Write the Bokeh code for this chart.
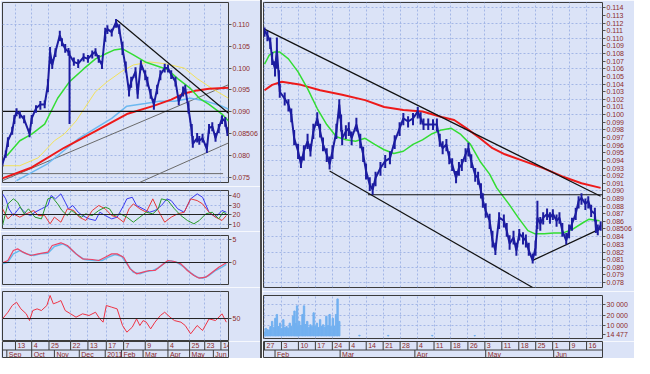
from bokeh.plotting import figure
from bokeh.layouts import row, column
from bokeh.models import Range1d, FixedTicker, PrintfTickFormatter, Span, Spacer
from bokeh.core.properties import value
from bokeh.embed import file_html
from bokeh.resources import INLINE

BG = "#dbe3f7"
GRID = "#a3b6e6"
LBL = "#8c2a2a"
FONT = "Liberation Sans"

# ---------------- LEFT WINDOW (daily, trading-day index) ----------------
left_idx = [0, 3, 5, 9, 11, 13, 16, 20, 25, 27, 31, 35, 39, 42, 44, 46, 49, 53, 55, 58, 61, 62,
            66, 70, 75, 79, 83, 86, 89, 92, 95, 97, 101, 105, 108, 111, 114, 117, 119, 123, 125,
            128, 132, 134, 137, 140, 143, 146, 150, 153, 156, 160, 163, 167, 169, 172, 175, 176,
            180, 182, 185, 189, 191, 194, 197, 200, 203, 206, 208]
left_close = [0.0782, 0.0804, 0.0834, 0.0856, 0.0885, 0.0900, 0.0895, 0.0883, 0.0850, 0.0885,
              0.0908, 0.0917, 0.0917, 0.0962, 0.1037, 0.1007, 0.1037, 0.1075, 0.1059, 0.1044,
              0.1037, 0.1030, 0.1014, 0.1010, 0.1025, 0.1021, 0.1032, 0.1037, 0.1021, 0.1007,
              0.1082, 0.1089, 0.1082, 0.1105, 0.1089, 0.1044, 0.1000, 0.0946, 0.0969, 0.0992,
              0.0940, 0.1010, 0.0985, 0.0969, 0.0940, 0.0917, 0.0953, 0.0985, 0.1000, 0.1000,
              0.0985, 0.0969, 0.0924, 0.0946, 0.0953, 0.0908, 0.0856, 0.0827, 0.0840, 0.0834,
              0.0840, 0.0815, 0.0863, 0.0867, 0.0840, 0.0863, 0.0885, 0.0878, 0.0851]
left_high = [0.0790, 0.0812, 0.0842, 0.0866, 0.0893, 0.0908, 0.0902, 0.0892, 0.0862, 0.0893,
             0.0915, 0.0925, 0.0926, 0.0975, 0.1048, 0.1020, 0.1045, 0.1085, 0.1068, 0.1055,
             0.1046, 0.1040, 0.1024, 0.1020, 0.1034, 0.1030, 0.1040, 0.1045, 0.1030, 0.1016,
             0.1092, 0.1098, 0.1090, 0.1112, 0.1100, 0.1060, 0.1015, 0.0962, 0.0980, 0.1002,
             0.0955, 0.1018, 0.0995, 0.0980, 0.0952, 0.0930, 0.0962, 0.0995, 0.1010, 0.1008,
             0.0995, 0.0980, 0.0938, 0.0958, 0.0962, 0.0922, 0.0872, 0.0845, 0.0852, 0.0845,
             0.0850, 0.0828, 0.0872, 0.0876, 0.0852, 0.0872, 0.0892, 0.0888, 0.0865]
left_low = [0.0775, 0.0795, 0.0820, 0.0848, 0.0872, 0.0890, 0.0885, 0.0874, 0.0842, 0.0872,
            0.0898, 0.0905, 0.0908, 0.0945, 0.1010, 0.0998, 0.1025, 0.1062, 0.1050, 0.1035,
            0.1028, 0.0872, 0.1005, 0.1000, 0.1015, 0.1012, 0.1022, 0.1027, 0.1012, 0.0998,
            0.1060, 0.1078, 0.1072, 0.1092, 0.1078, 0.1030, 0.0990, 0.0935, 0.0955, 0.0978,
            0.0930, 0.0995, 0.0972, 0.0958, 0.0930, 0.0905, 0.0940, 0.0972, 0.0990, 0.0990,
            0.0975, 0.0958, 0.0915, 0.0935, 0.0942, 0.0896, 0.0845, 0.0818, 0.0830, 0.0825,
            0.0830, 0.0806, 0.0850, 0.0856, 0.0832, 0.0852, 0.0872, 0.0866, 0.0845]
left_last_price = 0.08506
left_last_text = "0.08506"

left_green_x = [4, 16, 27, 39, 51, 62, 75, 86, 95, 103, 111, 121, 132, 145, 153, 162, 174, 182, 191, 203, 209]
left_green_y = [0.0800, 0.0834, 0.0849, 0.0872, 0.0931, 0.0969, 0.0998, 0.1021, 0.1032, 0.1041, 0.1044,
                0.1030, 0.1014, 0.1003, 0.0996, 0.0976, 0.0953, 0.0931, 0.0917, 0.0895, 0.0879]
left_yellow_x = [0, 16, 33, 48, 57, 68, 86, 97, 110, 121, 136, 150, 168, 180, 194, 209]
left_yellow_y = [0.0777, 0.0777, 0.0795, 0.0834, 0.0849, 0.0879, 0.0946, 0.0969, 0.0992, 0.1007,
                 0.1014, 0.1010, 0.1000, 0.0976, 0.0953, 0.0931]
left_blue_x = [13, 42, 71, 101, 115, 132, 145, 159, 174, 189, 203, 209]
left_blue_y = [0.0743, 0.0782, 0.0840, 0.0885, 0.0913, 0.0919, 0.0924, 0.0924, 0.0931, 0.0924, 0.0913, 0.0906]
left_red_x = [0, 27, 57, 86, 115, 139, 156, 168, 180, 191, 209]
left_red_y = [0.0748, 0.0773, 0.0818, 0.0856, 0.0895, 0.0913, 0.0928, 0.0942, 0.0949, 0.0953, 0.0955]

# straight drawing lines: [x0, x1], [y0, y1]
left_black_xs = [[106, 209], [0, 209]]
left_black_ys = [[0.1109, 0.0897], [0.0901, 0.0901]]
left_gray_xs = [[0, 209], [127, 209], [0, 204]]
left_gray_ys = [[0.0743, 0.0962], [0.0739, 0.0829], [0.0759, 0.0759]]

left_price_ticks = [0.075, 0.080, 0.090, 0.095, 0.100, 0.105, 0.110]
left_price_grid = [0.075, 0.080, 0.085, 0.090, 0.095, 0.100, 0.105, 0.110]

# ADX / DMI panel
adx_x = [0, 3, 6, 10, 16, 22, 26, 30, 36, 42, 45, 49, 54, 58, 61, 65, 70, 74, 80, 86, 90, 95, 101,
         106, 112, 115, 120, 124, 130, 136, 141, 147, 152, 156, 162, 168, 174, 180, 185, 191, 197, 203, 207]
adx_blue = [41.8, 36.5, 26.0, 18.9, 27.7, 20.7, 18.9, 22.4, 26.0, 29.5, 40.0, 36.5, 41.8, 33.0, 26.0,
            29.5, 22.4, 18.9, 15.4, 13.7, 22.4, 18.9, 15.4, 17.2, 29.5, 36.5, 38.2, 29.5, 26.0, 22.4,
            24.2, 29.5, 36.5, 34.7, 26.0, 22.4, 36.5, 41.8, 38.2, 22.4, 17.2, 24.2, 22.4]
adx_red_x = [0, 5, 10, 16, 22, 29, 33, 39, 44, 48, 54, 60, 66, 71, 77, 83, 89, 95, 101, 106, 112, 117,
             121, 127, 133, 139, 144, 150, 156, 162, 168, 174, 180, 185, 191, 197, 203, 207]
adx_red = [26.0, 15.4, 20.7, 17.2, 20.7, 24.2, 18.9, 18.9, 10.2, 17.2, 11.9, 26.0, 24.2, 17.2, 13.7,
           24.2, 29.5, 26.0, 18.9, 17.2, 11.9, 26.0, 31.2, 26.0, 22.4, 36.5, 24.2, 11.9, 17.2, 20.7,
           22.4, 36.5, 34.7, 31.2, 22.4, 17.2, 13.7, 18.9]
adx_green_x = [0, 5, 10, 14, 20, 24, 30, 36, 42, 46, 51, 55, 60, 64, 68, 73, 77, 83, 89, 95, 99, 103,
               109, 115, 121, 127, 133, 139, 144, 147, 153, 159, 165, 171, 177, 182, 188, 194, 200, 204, 207]
adx_green = [8.4, 31.2, 36.5, 33.0, 20.7, 26.0, 17.2, 15.4, 36.5, 38.2, 31.2, 24.2, 18.9, 24.2, 20.7,
             17.2, 20.7, 18.9, 24.2, 27.7, 26.0, 18.9, 20.7, 17.2, 11.9, 17.2, 22.4, 20.7, 26.0, 36.5,
             34.7, 26.0, 18.9, 13.7, 10.2, 13.7, 20.7, 22.4, 15.4, 22.4, 20.7]
adx_ticks = [10, 20, 30, 40]
adx_level = 20

# MACD panel
macd_red_x = [0, 5, 10, 14, 19, 26, 33, 42, 46, 54, 60, 68, 74, 83, 89, 95, 101, 106, 112, 118, 124,
              130, 136, 141, 147, 153, 159, 165, 171, 177, 182, 188, 194, 200, 207]
macd_red = [-0.07, 0.43, 2.6, 2.97, 2.25, 1.52, 1.88, 2.25, 3.70, 4.28, 3.70, 1.88, 0.80, 0.65, 0.43,
            1.16, 1.88, 1.88, 1.16, -1.38, -2.46, -2.10, -1.74, -1.74, -0.65, 0.43, 0.22, -0.29,
            -1.74, -2.83, -3.41, -3.19, -2.10, -1.01, -0.07]
macd_blue_x = [0, 5, 10, 16, 22, 29, 35, 42, 48, 56, 61, 70, 76, 85, 92, 98, 104, 110, 115, 121, 127,
               133, 139, 144, 150, 156, 162, 168, 174, 180, 185, 191, 197, 203, 207]
macd_blue = [-0.29, 0.07, 1.88, 2.6, 1.88, 1.52, 1.88, 2.03, 3.48, 4.06, 3.33, 1.52, 0.65, 0.43, 0.43,
             1.16, 1.74, 1.38, -0.29, -2.10, -2.46, -1.96, -1.74, -1.16, -0.07, 0.36, -0.07, -1.01,
             -2.25, -3.19, -3.41, -2.83, -1.74, -1.01, -0.43]
macd_ticks = [-5, 0, 5]
macd_level = 0

# RSI panel
rsi_x = [0, 5, 9, 13, 17, 22, 25, 28, 32, 36, 41, 44, 47, 51, 54, 58, 63, 68, 74, 80, 86, 90, 93, 96,
         101, 106, 111, 115, 120, 124, 127, 130, 133, 137, 141, 146, 150, 155, 159, 165, 169, 174,
         180, 185, 191, 197, 203, 207]
rsi_red = [49.5, 59.0, 68.6, 73.3, 63.8, 56.7, 47.1, 61.4, 63.8, 61.4, 68.6, 82.9, 71.0, 73.3, 75.7,
           61.4, 56.7, 51.9, 56.7, 54.3, 59.0, 49.5, 44.8, 68.6, 66.2, 63.8, 40.0, 30.5, 37.6, 49.5,
           40.0, 47.1, 44.8, 35.2, 44.8, 54.3, 59.0, 51.9, 47.1, 44.8, 40.0, 28.1, 40.0, 32.9, 49.5,
           47.1, 56.7, 44.8]
rsi_ticks = [50]
rsi_level = 50

# left date axis
left_day_ticks = [12, 27, 43, 63, 79, 96, 112, 132, 153, 173, 187, 202]
left_day_labels = ["13", "4", "25", "22", "13", "17", "7", "9", "4", "25", "23", "14"]
left_month_ticks = [4, 27, 48, 71, 95, 110, 130, 153, 173, 195]
left_month_labels = ["Sep", "Oct", "Nov", "Dec", "2011", "Feb", "Mar", "Apr", "May", "Jun"]

# ---------------- RIGHT WINDOW (hourly, weeks since Jan 27) ----------------
right_t = [0.00, 0.17, 0.34, 0.45, 0.62, 0.73, 0.85, 0.90, 1.19, 1.41, 1.58, 1.75, 1.98, 2.15, 2.32,
           2.54, 2.71, 2.88, 3.11, 3.28, 3.45, 3.67, 3.84, 4.01, 4.24, 4.41, 4.52, 4.58, 4.80, 4.97,
           5.14, 5.42, 5.65, 5.82, 5.99, 6.21, 6.38, 6.55, 6.84, 7.12, 7.40, 7.68, 7.97, 8.19, 8.47,
           8.76, 9.04, 9.21, 9.38, 9.66, 9.94, 10.17, 10.34, 10.51, 10.73, 10.90, 11.07, 11.30, 11.47,
           11.64, 11.86, 12.03, 12.20, 12.43, 12.60, 12.77, 12.88, 13.05, 13.28, 13.45, 13.62, 13.84,
           14.12, 14.29, 14.46, 14.69, 14.86, 15.03, 15.25, 15.42, 15.59, 15.82, 15.99, 16.10, 16.27,
           16.44, 16.67, 16.84, 17.01, 17.23, 17.40, 17.57, 17.80, 17.97, 18.14, 18.36, 18.53, 18.70,
           18.93, 19.10, 19.27, 19.49, 19.55, 19.66, 19.83]
right_close = [0.1110, 0.1104, 0.1095, 0.1073, 0.1060, 0.1085, 0.1047, 0.1030, 0.1021, 0.1013, 0.1000,
               0.0969, 0.0952, 0.0935, 0.0952, 0.0965, 0.0952, 0.0978, 0.0995, 0.0978, 0.0961, 0.0948,
               0.0935, 0.0952, 0.0978, 0.1013, 0.0987, 0.0969, 0.0978, 0.0982, 0.0969, 0.0987, 0.0965,
               0.0948, 0.0926, 0.0908, 0.0902, 0.0917, 0.0930, 0.0939, 0.0943, 0.0965, 0.0982, 0.0995,
               0.0991, 0.0995, 0.1004, 0.0995, 0.0987, 0.0987, 0.0987, 0.0987, 0.0965, 0.0956, 0.0961,
               0.0943, 0.0935, 0.0917, 0.0930, 0.0935, 0.0948, 0.0956, 0.0939, 0.0921, 0.0917, 0.0900,
               0.0887, 0.0874, 0.0861, 0.0835, 0.0822, 0.0865, 0.0861, 0.0848, 0.0831, 0.0839, 0.0822,
               0.0844, 0.0839, 0.0835, 0.0822, 0.0809, 0.0826, 0.0865, 0.0857, 0.0865, 0.0870, 0.0865,
               0.0870, 0.0861, 0.0865, 0.0848, 0.0835, 0.0848, 0.0857, 0.0870, 0.0887, 0.0891, 0.0883,
               0.0887, 0.0874, 0.0870, 0.0852, 0.0848, 0.0855]
right_high = [0.1114, 0.1110, 0.1101, 0.1082, 0.1070, 0.1101, 0.1058, 0.1040, 0.1029, 0.1020, 0.1008,
              0.0980, 0.0962, 0.0945, 0.0960, 0.0975, 0.0962, 0.0988, 0.1003, 0.0988, 0.0970, 0.0956,
              0.0945, 0.0960, 0.0988, 0.1020, 0.1000, 0.0980, 0.0986, 0.0990, 0.0978, 0.0996, 0.0975,
              0.0958, 0.0936, 0.0918, 0.0910, 0.0925, 0.0938, 0.0947, 0.0952, 0.0973, 0.0990, 0.1002,
              0.0998, 0.1002, 0.1010, 0.1003, 0.0995, 0.0995, 0.0994, 0.0995, 0.0975, 0.0965, 0.0968,
              0.0952, 0.0943, 0.0926, 0.0938, 0.0942, 0.0956, 0.0963, 0.0948, 0.0930, 0.0925, 0.0910,
              0.0897, 0.0884, 0.0870, 0.0848, 0.0832, 0.0872, 0.0869, 0.0858, 0.0842, 0.0848, 0.0832,
              0.0850, 0.0846, 0.0843, 0.0832, 0.0818, 0.0835, 0.0887, 0.0866, 0.0872, 0.0877, 0.0872,
              0.0876, 0.0869, 0.0872, 0.0858, 0.0845, 0.0856, 0.0865, 0.0878, 0.0893, 0.0897, 0.0890,
              0.0893, 0.0882, 0.0878, 0.0862, 0.0856, 0.0860]
right_low = [0.1102, 0.1096, 0.1086, 0.1065, 0.1050, 0.1060, 0.1038, 0.1022, 0.1012, 0.1004, 0.0990,
             0.0960, 0.0942, 0.0930, 0.0940, 0.0955, 0.0945, 0.0968, 0.0985, 0.0970, 0.0952, 0.0938,
             0.0928, 0.0942, 0.0968, 0.0995, 0.0978, 0.0960, 0.0968, 0.0972, 0.0960, 0.0978, 0.0956,
             0.0938, 0.0915, 0.0900, 0.0895, 0.0906, 0.0920, 0.0930, 0.0935, 0.0955, 0.0972, 0.0986,
             0.0983, 0.0986, 0.0995, 0.0987, 0.0980, 0.0980, 0.0980, 0.0978, 0.0958, 0.0948, 0.0952,
             0.0935, 0.0926, 0.0910, 0.0920, 0.0926, 0.0938, 0.0945, 0.0930, 0.0912, 0.0908, 0.0890,
             0.0878, 0.0865, 0.0850, 0.0826, 0.0816, 0.0850, 0.0852, 0.0840, 0.0823, 0.0830, 0.0815,
             0.0835, 0.0830, 0.0826, 0.0815, 0.0805, 0.0815, 0.0850, 0.0848, 0.0856, 0.0862, 0.0857,
             0.0862, 0.0853, 0.0857, 0.0840, 0.0830, 0.0838, 0.0848, 0.0862, 0.0877, 0.0882, 0.0875,
             0.0877, 0.0866, 0.0860, 0.0845, 0.0842, 0.0848]
right_last_price = 0.08506
right_last_text = "0.08506"

right_green_x = [0, 0.28, 0.56, 0.9, 1.41, 1.98, 2.54, 3.11, 3.67, 4.24, 4.8, 5.37, 5.93, 6.5, 7.06,
                 7.63, 8.19, 8.76, 9.32, 9.89, 10.45, 11.02, 11.58, 12.15, 12.71, 13.28, 13.7, 14.41,
                 14.97, 15.54, 15.93, 16.5, 17.06, 17.63, 18.19, 18.76, 19.15, 19.77]
right_green_y = [0.1066, 0.1078, 0.1082, 0.1082, 0.1073, 0.1056, 0.1034, 0.1008, 0.0987, 0.0971,
                 0.0967, 0.0965, 0.0969, 0.0961, 0.0954, 0.0949, 0.0952, 0.0961, 0.0967, 0.0975,
                 0.0980, 0.0982, 0.0974, 0.0961, 0.0939, 0.0922, 0.0904, 0.0883, 0.0865, 0.0848,
                 0.0844, 0.0844, 0.0845, 0.0845, 0.0850, 0.0858, 0.0863, 0.0861]
right_red_x = [0, 0.45, 1.02, 2.15, 3.28, 4.58, 5.93, 7.06, 8.19, 9.32, 10.45, 11.19, 11.92, 12.71,
               13.45, 14.18, 15.31, 16.44, 17.57, 18.7, 19.83]
right_red_y = [0.1032, 0.1039, 0.1043, 0.1039, 0.1032, 0.1026, 0.1019, 0.1010, 0.1006, 0.1004, 0.0997,
               0.0993, 0.0982, 0.0969, 0.0956, 0.0948, 0.0939, 0.0930, 0.0919, 0.0910, 0.0904]

right_line_xs = [[0, 19.83], [3.84, 15.82], [6.1, 19.94], [15.82, 19.77]]
right_line_ys = [[0.1112, 0.0893], [0.0926, 0.07735], [0.0895, 0.0895], [0.0809, 0.0850]]

right_price_ticks = [0.078, 0.079, 0.080, 0.081, 0.082, 0.083, 0.084, 0.086, 0.087, 0.088, 0.089,
                     0.090, 0.091, 0.092, 0.093, 0.094, 0.095, 0.096, 0.097, 0.098, 0.099, 0.100,
                     0.101, 0.102, 0.103, 0.104, 0.105, 0.106, 0.107, 0.108, 0.109, 0.110, 0.111,
                     0.112, 0.113, 0.114]
right_price_grid = [0.078, 0.080, 0.082, 0.084, 0.086, 0.088, 0.090, 0.092, 0.094, 0.096, 0.098,
                    0.100, 0.102, 0.104, 0.106, 0.108, 0.110, 0.112, 0.114]

vol_t = [0.04, 0.08, 0.17, 0.26, 0.35, 0.45, 0.55, 0.64, 0.73, 0.82, 0.92, 1.01, 1.11, 1.20, 1.30,
         1.40, 1.49, 1.58, 1.68, 1.77, 1.85, 1.92, 1.98, 2.05, 2.15, 2.24, 2.33, 2.42, 2.52, 2.62,
         2.71, 2.80, 2.90, 3.00, 3.09, 3.18, 3.28, 3.37, 3.46, 3.56, 3.65, 3.75, 3.84, 3.93, 4.03,
         4.12, 4.22, 4.31, 4.41, 5.6, 7.3, 9.9, 12.4]
vol_v = [4000, 7300, 6000, 5700, 9000, 14000, 8000, 17000, 20700, 9000, 12300, 7000, 15700, 8000,
         9000, 7500, 12300, 9000, 19000, 24000, 12000, 29000, 9000, 14000, 10000, 20700, 29000, 11000,
         14000, 8000, 10700, 9000, 22300, 9500, 12300, 8000, 15700, 9000, 10700, 8500, 19000, 10000,
         20700, 9000, 17000, 9500, 20700, 35700, 14000, 600, 500, 500, 400]
vol_ticks = [10000, 20000, 30000]
vol_labels = ["10 000", "20 000", "30 000"]
vol_last_y = 1000
vol_last_text = "14 477"

right_day_ticks = list(range(20))
right_day_labels = ["27", "3", "10", "17", "24", "4", "14", "21", "28", "4", "11", "18", "26", "3",
                    "11", "18", "25", "1", "9", "16"]
right_month_ticks = [0.62, 4.46, 8.87, 13.05, 17.06]
right_month_labels = ["Feb", "Mar", "Apr", "May", "Jun"]


# ---------------- helpers ----------------
def panel(width, height, xr, yr, bt, bb, bl, br, yticks, ygrid, xgrid, fmt=None, overrides=None):
    p = figure(width=width, height=height, x_range=xr, y_range=yr,
               x_axis_location=None, y_axis_location="right",
               output_backend="svg", toolbar_location=None,
               min_border_left=bl, min_border_right=br, min_border_top=bt, min_border_bottom=bb,
               background_fill_color=BG, border_fill_color=BG,
               outline_line_color="#3c3c3c", outline_line_width=1)
    ax = p.yaxis[0]
    ax.ticker = FixedTicker(ticks=yticks)
    if fmt:
        ax.formatter = PrintfTickFormatter(format=fmt)
    if overrides:
        ax.major_label_overrides = overrides
    ax.major_label_text_font = FONT
    ax.major_label_text_font_size = "7px"
    ax.major_label_text_color = LBL
    ax.major_tick_in = 0
    ax.major_tick_out = 3
    ax.minor_tick_in = 0
    ax.minor_tick_out = 0
    ax.major_label_standoff = 1
    ax.axis_line_color = None
    ax.major_tick_line_color = "#555555"
    p.ygrid.ticker = FixedTicker(ticks=ygrid)
    p.xgrid.ticker = FixedTicker(ticks=xgrid)
    for g in (p.xgrid, p.ygrid):
        g.grid_line_color = GRID
        g.grid_line_dash = "2 2"
        g.grid_line_width = 1
    return p


def date_strip(width, height, xr, bl, br, dx, dl, mx, ml):
    p = figure(width=width, height=height, x_range=xr, y_range=Range1d(0, 2),
               x_axis_location=None, y_axis_location=None,
               output_backend="svg", toolbar_location=None,
               min_border_left=bl, min_border_right=br, min_border_top=0, min_border_bottom=0,
               background_fill_color=BG, border_fill_color=BG,
               outline_line_color="#3c3c3c")
    p.xgrid.visible = False
    p.ygrid.visible = False
    p.add_layout(Span(location=1, dimension="width", line_color="#3c3c3c", line_width=1))
    p.segment(x0=dx, x1=dx, y0=[1] * len(dx), y1=[2] * len(dx), line_color="#3c3c3c", line_width=1)
    p.segment(x0=mx, x1=mx, y0=[0] * len(mx), y1=[1] * len(mx), line_color="#3c3c3c", line_width=1)
    p.text(x=dx, y=[1.5] * len(dx), text=dl, x_offset=2, text_align="left", text_baseline="middle",
           text_font=value(FONT), text_font_size="7px", text_color=LBL)
    p.text(x=mx, y=[0.5] * len(mx), text=ml, x_offset=2, text_align="left", text_baseline="middle",
           text_font=value(FONT), text_font_size="7px", text_color=LBL)
    return p


LW = 260
RW = 372
LBR = 30
RBR = 30
lxr = Range1d(0, 209)
rxr = Range1d(-0.06, 19.94)

# ---- left main
p_lmain = panel(LW, 186, lxr, Range1d(0.07387, 0.11497), 2, 4, 2, LBR,
                left_price_ticks + [left_last_price], left_price_grid, left_day_ticks, "%.3f",
                {left_last_price: left_last_text})
p_lmain.multi_line(xs=left_gray_xs, ys=left_gray_ys, line_color="#6a6a6a", line_width=1)
p_lmain.line(left_yellow_x, left_yellow_y, line_color="#f2e25a", line_width=1)
p_lmain.line(left_blue_x, left_blue_y, line_color="#6cb8f0", line_width=1.5)
p_lmain.line(left_red_x, left_red_y, line_color="#ee1a1a", line_width=2)
p_lmain.line(left_green_x, left_green_y, line_color="#33dd33", line_width=1.5)
p_lmain.multi_line(xs=left_black_xs, ys=left_black_ys, line_color="#111111", line_width=1.2)
p_lmain.segment(x0=left_idx, x1=left_idx, y0=left_low, y1=left_high, line_color="#1c1ca0", line_width=2)
p_lmain.line(left_idx, left_close, line_color="#1c1ca0", line_width=2)

# ---- ADX
p_adx = panel(LW, 45, lxr, Range1d(5.26, 45.3), 4, 3, 2, LBR, adx_ticks, adx_ticks, left_day_ticks)
p_adx.add_layout(Span(location=adx_level, dimension="width", line_color="#222222", line_width=1))
p_adx.line(adx_x, adx_blue, line_color="#3a3af0", line_width=1)
p_adx.line(adx_red_x, adx_red, line_color="#e83838", line_width=1)
p_adx.line(adx_green_x, adx_green, line_color="#2a9a2a", line_width=1)

# ---- MACD
p_macd = panel(LW, 56, lxr, Range1d(-4.78, 5.87), 4, 3, 2, LBR, macd_ticks, macd_ticks, left_day_ticks)
p_macd.add_layout(Span(location=macd_level, dimension="width", line_color="#222222", line_width=1))
p_macd.line(macd_blue_x, macd_blue, line_color="#66bbee", line_width=1.5)
p_macd.line(macd_red_x, macd_red, line_color="#ee4466", line_width=1.2)

# ---- RSI
p_rsi = panel(LW, 54, lxr, Range1d(18.6, 88.6), 4, 1, 2, LBR, rsi_ticks, rsi_ticks, left_day_ticks)
p_rsi.add_layout(Span(location=rsi_level, dimension="width", line_color="#222222", line_width=1))
p_rsi.line(rsi_x, rsi_red, line_color="#ee3344", line_width=1)

p_ldate = date_strip(LW, 17, lxr, 2, LBR, left_day_ticks, left_day_labels, left_month_ticks, left_month_labels)

# ---- right main
p_rmain = panel(RW, 291, rxr, Range1d(0.07735, 0.11469), 2, 4, 1, RBR,
                right_price_ticks + [right_last_price], right_price_grid, right_day_ticks, "%.3f",
                {right_last_price: right_last_text})
p_rmain.line(right_red_x, right_red_y, line_color="#ee1a1a", line_width=2)
p_rmain.line(right_green_x, right_green_y, line_color="#33dd33", line_width=1.5)
p_rmain.multi_line(xs=right_line_xs, ys=right_line_ys, line_color="#111111", line_width=1.2)
p_rmain.segment(x0=right_t, x1=right_t, y0=right_low, y1=right_high, line_color="#1c1ca0", line_width=2)
p_rmain.line(right_t, right_close, line_color="#1c1ca0", line_width=2)

# ---- volume
vol_over = dict(zip(vol_ticks, vol_labels))
vol_over[vol_last_y] = vol_last_text
p_vol = panel(RW, 50, rxr, Range1d(-2500, 39000), 4, 3, 1, RBR, vol_ticks + [vol_last_y], vol_ticks,
              right_day_ticks, None, vol_over)
p_vol.vbar(x=vol_t, top=vol_v, bottom=0, width=0.08, fill_color="#72b0f0", line_color="#72b0f0")

p_rdate = date_strip(RW, 17, rxr, 1, RBR, right_day_ticks, right_day_labels, right_month_ticks, right_month_labels)

left = column(p_lmain, p_adx, p_macd, p_rsi, p_ldate)
right = column(p_rmain, p_vol, p_rdate)
sep = Spacer(width=2, height=358, styles={"background-color": "#4a4a4a"})
layout = row(left, sep, right)

open("out.html", "w").write(file_html(layout, INLINE))
